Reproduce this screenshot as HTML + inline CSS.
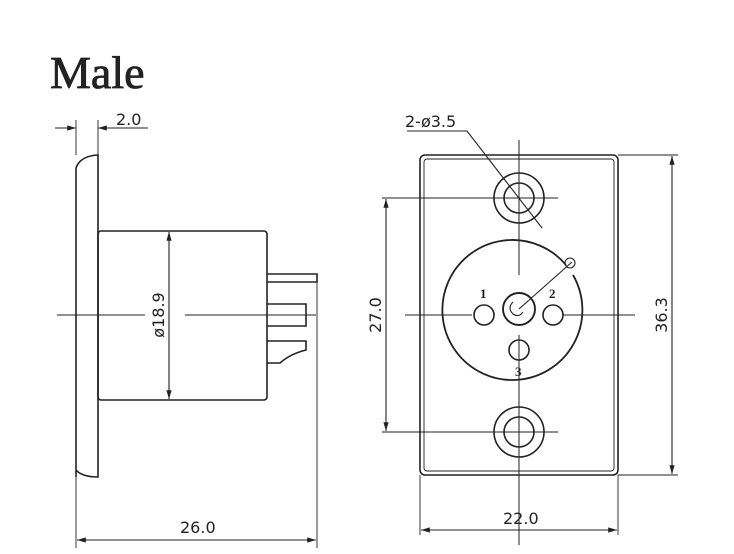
<!DOCTYPE html>
<html><head><meta charset="utf-8"><style>
html,body{margin:0;padding:0;background:#fff;width:734px;height:554px;overflow:hidden}
svg{display:block}
.d{font-family:"DejaVu Sans","Liberation Sans",sans-serif;font-size:16px;fill:#222}
</style></head><body>
<svg width="734" height="554" viewBox="0 0 734 554" xmlns="http://www.w3.org/2000/svg">
<defs>
<marker id="a" viewBox="0 0 10 6" refX="10" refY="3" markerWidth="8" markerHeight="5" orient="auto-start-reverse"><path d="M0,0L10,3L0,6z" fill="#222"/></marker>
</defs>
<text x="50" y="88" font-family="Liberation Serif,serif" font-size="46" fill="#222" stroke="#222" stroke-width="0.8">Male</text>
<g stroke="#222" stroke-width="1.6" fill="none">
<!-- left view -->
<path d="M76,477 V168 Q80,156 98,155 V477 Q82,477 76,470"/>
<rect x="98" y="231" width="169" height="169" rx="3"/>
<path d="M267,274 H317 V282 H267"/>
<path d="M267,304 H306 V326 H267"/>
<path d="M267,341 H306 V350 Q290,354 280,363 H267"/>
<line x1="57" y1="315" x2="145" y2="315" stroke-width="0.9"/>
<line x1="185" y1="315" x2="316" y2="315" stroke-width="0.9"/>
<line x1="169" y1="232" x2="169" y2="399" marker-start="url(#a)" marker-end="url(#a)" stroke-width="1.1"/>
<line x1="76" y1="120" x2="76" y2="155" stroke-width="0.9"/>
<line x1="98" y1="120" x2="98" y2="155" stroke-width="0.9"/>
<line x1="55" y1="128" x2="76" y2="128" marker-end="url(#a)" stroke-width="1.1"/>
<line x1="98" y1="128" x2="148" y2="128" marker-start="url(#a)" stroke-width="1.1"/>
<line x1="76" y1="477" x2="76" y2="548" stroke-width="0.9"/>
<line x1="317" y1="274" x2="317" y2="548" stroke-width="0.9"/>
<line x1="77" y1="540" x2="316" y2="540" marker-start="url(#a)" marker-end="url(#a)" stroke-width="1.1"/>
<!-- right view -->
<rect x="420" y="155" width="198" height="320" rx="5"/>
<rect x="424" y="159" width="190" height="312" rx="3" stroke-width="0.9"/>
<circle cx="519" cy="198" r="25"/><circle cx="519" cy="198" r="15"/>
<circle cx="519" cy="432" r="25"/><circle cx="519" cy="432" r="15"/>
<path d="M566,265 A70,70 0 1 0 573,275" stroke-width="1.8"/>
<circle cx="570" cy="263" r="5" stroke-width="1.1"/>
<circle cx="484" cy="315" r="10"/><circle cx="553" cy="315" r="10"/><circle cx="519" cy="350" r="10"/>
<circle cx="519" cy="309" r="16" stroke-width="1.9"/>
<path d="M513,302 q-6,6 0,12 q6,4 10,-2" stroke-width="1.1"/>
<line x1="519" y1="140" x2="519" y2="275" stroke-width="1"/>
<line x1="519" y1="335" x2="519" y2="545" stroke-width="1"/>
<line x1="405" y1="315" x2="472" y2="315" stroke-width="1"/>
<line x1="563" y1="315" x2="635" y2="315" stroke-width="1"/>
<line x1="382" y1="198" x2="558" y2="198" stroke-width="1"/>
<line x1="382" y1="432" x2="558" y2="432" stroke-width="1"/>
<line x1="386" y1="199" x2="386" y2="431" marker-start="url(#a)" marker-end="url(#a)" stroke-width="1.1"/>
<line x1="618" y1="155" x2="678" y2="155" stroke-width="0.9"/>
<line x1="618" y1="475" x2="678" y2="475" stroke-width="0.9"/>
<line x1="672" y1="156" x2="672" y2="474" marker-start="url(#a)" marker-end="url(#a)" stroke-width="1.1"/>
<line x1="420" y1="475" x2="420" y2="535" stroke-width="0.9"/>
<line x1="618" y1="475" x2="618" y2="535" stroke-width="0.9"/>
<line x1="421" y1="530" x2="617" y2="530" marker-start="url(#a)" marker-end="url(#a)" stroke-width="1.1"/>
<path d="M407,131 H467 L542,228" stroke-width="1.1"/>
<line x1="519" y1="309" x2="572" y2="262" stroke-width="1.1"/>
</g>
<text class="d" x="116" y="125">2.0</text>
<text class="d" x="180" y="533">26.0</text>
<text class="d" x="503" y="524">22.0</text>
<text class="d" x="405" y="127">2-ø3.5</text>
<text class="d" transform="translate(164,315) rotate(-90)" text-anchor="middle">ø18.9</text>
<text class="d" transform="translate(381,315) rotate(-90)" text-anchor="middle">27.0</text>
<text class="d" transform="translate(667,315) rotate(-90)" text-anchor="middle">36.3</text>
<g font-family="Liberation Serif,serif" font-size="13" fill="#222" font-weight="bold">
<text x="480" y="298">1</text><text x="549" y="298">2</text><text x="515" y="376">3</text>
</g>
</svg>
</body></html>
